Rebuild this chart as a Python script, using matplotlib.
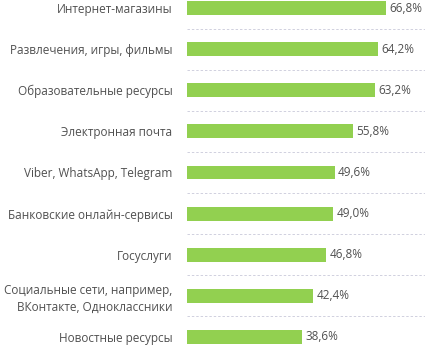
import matplotlib.pyplot as plt

# Доля пользователей по видам интернет-ресурсов
categories = ["Интернет-магазины", "Развлечения, игры, фильмы", "Образовательные ресурсы",
              "Электронная почта", "Viber, WhatsApp, Telegram", "Банковские онлайн-сервисы",
              "Госуслуги", "Социальные сети, например,\nВКонтакте, Одноклассники",
              "Новостные ресурсы"]
values = [66.8, 64.2, 63.2, 55.8, 49.6, 49.0, 46.8, 42.4, 38.6]
labels = ["66,8%", "64,2%", "63,2%", "55,8%", "49,6%", "49,0%", "46,8%", "42,4%", "38,6%"]

plt.rcParams['font.family'] = ['Open Sans', 'DejaVu Sans']

fig = plt.figure(figsize=(4.29, 3.45), dpi=100)
ax = fig.add_axes([187/429, -12.5/345, 238/429, 370/345])

pos = list(range(len(values)))
ax.barh(pos, values, height=0.34, color="#92D050")
for p, v, t in zip(pos, values, labels):
    ax.text(v + 1.2, p, t, va="center", ha="left", fontsize=8.5, color="#505050")

# пунктирные разделители между строками
for p in pos[:-1]:
    ax.axhline(p + 0.5, color="#D0D0DE", lw=0.7, ls=(0, (2.5, 2)))

ax.set_xlim(0, 80)
ax.set_ylim(len(values) - 0.5, -0.5)
ax.set_yticks(pos)
ax.set_yticklabels(categories, fontsize=8.5, color="#505050", ha="right",
                   linespacing=1.35)
ax.tick_params(axis="y", length=0, pad=10.5)
ax.set_xticks([])
for s in ax.spines.values():
    s.set_visible(False)

fig.savefig("out.png", dpi=100)
